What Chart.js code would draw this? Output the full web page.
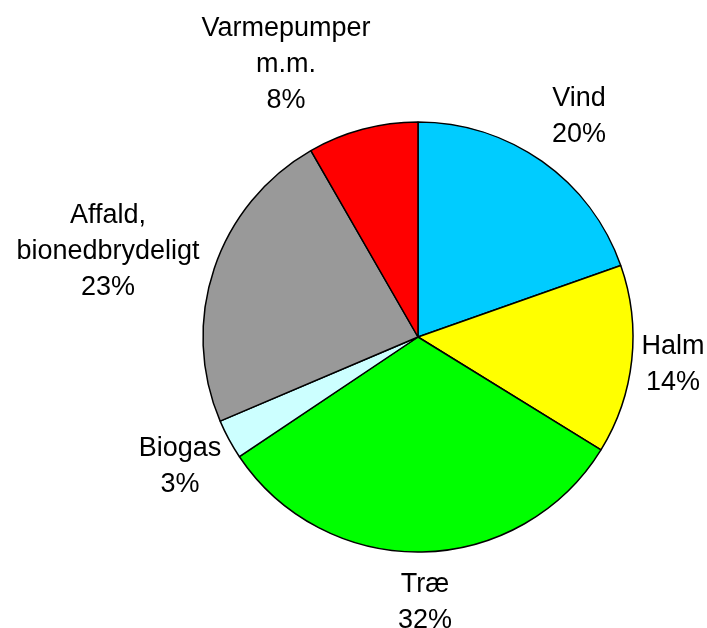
<!DOCTYPE html>
<html>
<head>
<meta charset="utf-8">
<script src="https://cdn.jsdelivr.net/npm/chart.js@4.4.0/dist/chart.umd.min.js"></script>
<style>
  html, body { margin: 0; padding: 0; background: #ffffff; }
  #wrap { width: 707px; height: 628px; position: relative; }
</style>
</head>
<body>
<div id="wrap"><canvas id="c" width="707" height="628"></canvas></div>
<script>
// Data
const categories = ["Vind", "Halm", "Træ", "Biogas", "Affald, bionedbrydeligt", "Varmepumper m.m."];
const labelLines = [["Vind"], ["Halm"], ["Træ"], ["Biogas"], ["Affald,", "bionedbrydeligt"], ["Varmepumper", "m.m."]];
const shares = [19.6, 14.2, 31.8, 3.0, 23.1, 8.3];

// Styles
const sliceColors = ["#00CCFF", "#FFFF00", "#00FF00", "#CCFFFF", "#999999", "#FF0000"];
// label placement: offset of first text baseline from pie centre
const labelOffsets = [
  {dx: 161, dy: -231},
  {dx: 255, dy: 17},
  {dx: 7, dy: 255},
  {dx: -238, dy: 119},
  {dx: -310, dy: -114},
  {dx: -132, dy: -301}
];

const pieLabels = {
  id: 'pieLabels',
  afterDatasetsDraw(chart) {
    const ctx = chart.ctx;
    const meta = chart.getDatasetMeta(0);
    const total = shares.reduce((a, b) => a + b, 0);
    ctx.save();
    ctx.font = '27px "Liberation Sans", Arial, sans-serif';
    ctx.fillStyle = '#000000';
    ctx.textAlign = 'center';
    ctx.textBaseline = 'alphabetic';
    const lineH = 36;
    meta.data.forEach((arc, i) => {
      const off = labelOffsets[i];
      const x = arc.x + off.dx;
      const y = arc.y + off.dy;
      const pct = Math.round(shares[i] / total * 100) + '%';
      const lines = labelLines[i].concat([pct]);
      lines.forEach((t, k) => {
        ctx.fillText(t, x, y + k * lineH);
      });
    });
    ctx.restore();
  }
};

new Chart(document.getElementById('c'), {
  type: 'pie',
  data: {
    labels: categories,
    datasets: [{
      data: shares,
      backgroundColor: sliceColors,
      borderColor: '#000000',
      borderWidth: 1.5,
      borderAlign: 'center'
    }]
  },
  options: {
    responsive: false,
    animation: false,
    radius: 215,
    layout: { padding: { left: 203, right: 74, top: 122, bottom: 76 } },
    plugins: {
      legend: { display: false },
      tooltip: { enabled: false }
    }
  },
  plugins: [pieLabels]
});
</script>
</body>
</html>
